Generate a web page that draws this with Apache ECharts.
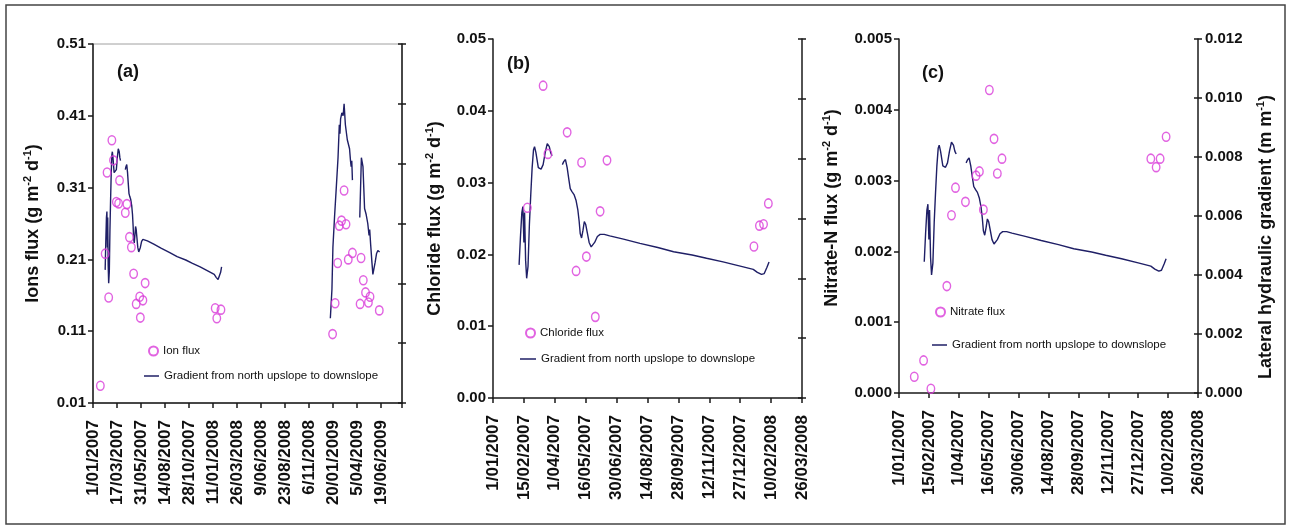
<!DOCTYPE html>
<html><head><meta charset="utf-8">
<script src="https://cdn.jsdelivr.net/npm/echarts@6/dist/echarts.min.js"></script>
<style>html,body{margin:0;padding:0;background:#fff}#c{width:1291px;height:529px}</style>
</head><body><div id="c"></div>
<script>
// x values are days since 1/01/2007
const xLabelsA = ['1/01/2007','17/03/2007','31/05/2007','14/08/2007','28/10/2007','11/01/2008','26/03/2008','9/06/2008','23/08/2008','6/11/2008','20/01/2009','5/04/2009','19/06/2009'];
const xLabelsBC = ['1/01/2007','15/02/2007','1/04/2007','16/05/2007','30/06/2007','14/08/2007','28/09/2007','12/11/2007','27/12/2007','10/02/2008','26/03/2008'];

// Lateral hydraulic gradient (m m-1), null = gap in the record
const gradientDays = [38,40,42,43.5,45,46,47.5,49,51,53,55,57,59,60.5,62.5,66,70,73,76,79,80.5,82,84,86,
  94,
  101,103,105.5,108,110.5,112.5,115,118,121,123.5,125.5,127,129,131,133,135,137.5,140,143,145,148,152,156,162,170,190,214,240,263,290,311,335,360,379,385,391,395,399,402,
  570,
  742,747,750,755,760,766,770,772,774,778,782,785,789,795,802,805,807,809,811,
  822,
  834,839,844,849,854,859,863,865,868,872,875,878,882,886.5,890.5,896];
const gradientValues = [0.00445,0.0054,0.0062,0.0064,0.0052,0.0062,0.0046,0.0040,0.0044,0.0058,0.0068,0.0077,0.0083,0.0084,0.0082,0.0077,0.00765,0.0078,0.0082,0.0085,0.00855,0.0084,0.0082,0.0081,
  null,
  0.0078,0.0079,0.00797,0.0077,0.0073,0.0070,0.0069,0.0068,0.0066,0.0063,0.0059,0.0055,0.00535,0.0056,0.0059,0.0058,0.0055,0.0052,0.00505,0.0050,0.0052,0.0054,0.00547,0.00547,0.00542,0.00531,0.00517,0.00503,0.00489,0.00478,0.00467,0.00455,0.00441,0.0043,0.0042,0.00413,0.00416,0.00437,0.00455,
  null,
  0.00283,0.0038,0.0052,0.0062,0.0071,0.0082,0.0093,0.0090,0.0095,0.0097,0.0096,0.0100,0.0093,0.0088,0.0085,0.0081,0.0079,0.0081,0.00745,
  null,
  0.0062,0.0082,0.0079,0.0065,0.0063,0.0060,0.0056,0.0058,0.0053,0.0047,0.0043,0.00428,0.0047,0.0050,0.0051,0.00505];

// (a) Ion flux (g m-2 d-1)
const ionDays = [23,38,49,44,59,64,73,80,83,101,106,114,120,127,163,146,135,156,148,382,400,387,
  749,757,765,770,777,785,791,798,811,838,845,835,852,866,861,895];
const ionValues = [0.034,0.218,0.157,0.331,0.376,0.348,0.290,0.288,0.320,0.275,0.287,0.241,0.227,0.190,0.177,0.158,0.148,0.153,0.129,0.142,0.140,0.128,
  0.106,0.149,0.205,0.257,0.264,0.306,0.259,0.210,0.219,0.212,0.181,0.148,0.164,0.158,0.150,0.139];

// (b) Chloride flux (g m-2 d-1)
const chlorideDays = [50,73,80,108,129,121,136,149,156,166,380,388,394,401];
const chlorideValues = [0.0265,0.0435,0.0340,0.0370,0.0328,0.0177,0.0197,0.0113,0.0260,0.0331,0.0211,0.0240,0.0242,0.0271];

// (c) Nitrate-N flux (g m-2 d-1)
const nitrateDays = [23,37,48,72,79,85,100,116,121,127,136,143,148,155,379,387,393,402];
const nitrateValues = [0.00023,0.00046,0.00006,0.00151,0.00251,0.00290,0.00270,0.00307,0.00313,0.00259,0.00428,0.00359,0.00310,0.00331,0.00331,0.00319,0.00331,0.00362];

const LINE_NAME = 'Gradient from north upslope to downslope';
const zip = (xs, ys) => xs.map((x, i) => [x, ys[i] == null ? '-' : ys[i]]);
const tickFmt = (labels, step) => v => {
  const i = Math.round(v / step);
  return Math.abs(v - i * step) < 0.01 && labels[i] ? labels[i] : '';
};

const FONT = '"Liberation Sans", Arial, sans-serif';
const AXC = '#1a1a1a';
const axisLine = {show: true, lineStyle: {color: AXC, width: 1.5}};
const tickOut = {show: true, length: 5, lineStyle: {color: AXC, width: 1.5}};
const nameStyle = (pad) => ({
  fontFamily: FONT, fontSize: 18, fontWeight: 'bold', color: '#111', lineHeight: 22, padding: pad,
  rich: {sup: {fontFamily: FONT, fontSize: 11, fontWeight: 'bold', color: '#111', verticalAlign: 'top', lineHeight: 11}}
});
const xLabel = (labels, step) => ({
  rotate: 90, margin: 17, fontFamily: FONT, fontSize: 17, fontWeight: 'bold', color: '#111',
  formatter: tickFmt(labels, step), showMinLabel: true, showMaxLabel: true
});
const yLabel = (dec) => ({fontFamily: FONT, fontSize: 15, fontWeight: 'bold', color: '#111', margin: 7,
  formatter: v => v.toFixed(dec)});

const grids = [
  {left: 93, top: 44, width: 309, height: 359, show: true, borderColor: '#a0a0a0', borderWidth: 1},
  {left: 493, top: 39, width: 309, height: 359},
  {left: 899, top: 39, width: 299, height: 354}
];

const xAxes = [
  {type: 'value', gridIndex: 0, min: 0, max: 966, interval: 75, axisLine, axisTick: tickOut, splitLine: {show: false},
    axisLabel: xLabel(xLabelsA, 75)},
  {type: 'value', gridIndex: 1, min: 0, max: 450, interval: 45, axisLine, axisTick: tickOut, splitLine: {show: false},
    axisLabel: xLabel(xLabelsBC, 45)},
  {type: 'value', gridIndex: 2, min: 0, max: 450, interval: 45, axisLine, axisTick: tickOut, splitLine: {show: false},
    axisLabel: xLabel(xLabelsBC, 45)}
];

const gradAxis = (gi, withLabels) => ({
  type: 'value', gridIndex: gi, position: 'right', min: 0, max: 0.012, interval: 0.002,
  axisLine, axisTick: {show: true, length: 4, lineStyle: {color: AXC, width: 1.5}}, splitLine: {show: false},
  axisLabel: withLabels ? yLabel(3) : {show: false},
  name: withLabels ? 'Lateral hydraulic gradient (m m{sup|-1})' : '',
  nameLocation: 'middle', nameRotate: 90, nameGap: 57,
  nameTextStyle: nameStyle([0, 42, 0, 0])
});
// inner half of the crossing ticks on the gradient axis
const gradInnerTicks = (gi) => ({
  type: 'value', gridIndex: gi, position: 'right', min: 0, max: 0.012, interval: 0.002,
  axisLine: {show: false}, axisTick: {show: true, inside: true, length: 4, lineStyle: {color: AXC, width: 1.5}},
  axisLabel: {show: false}, splitLine: {show: false}
});

const yAxes = [
  {type: 'value', gridIndex: 0, min: 0.01, max: 0.51, interval: 0.1, axisLine, axisTick: tickOut, splitLine: {show: false},
    axisLabel: yLabel(2), name: 'Ions flux (g m{sup|-2} d{sup|-1})', nameLocation: 'middle', nameRotate: 90, nameGap: 49,
    nameTextStyle: nameStyle([0, 0, 0, 0])},
  gradAxis(0, false),
  {type: 'value', gridIndex: 1, min: 0, max: 0.05, interval: 0.01, axisLine, axisTick: tickOut, splitLine: {show: false},
    axisLabel: yLabel(2), name: 'Chloride flux (g m{sup|-2} d{sup|-1})', nameLocation: 'middle', nameRotate: 90, nameGap: 47,
    nameTextStyle: nameStyle([0, 0, 0, 0])},
  gradAxis(1, false),
  {type: 'value', gridIndex: 2, min: 0, max: 0.005, interval: 0.001, axisLine, axisTick: tickOut, splitLine: {show: false},
    axisLabel: yLabel(3), name: 'Nitrate-N flux (g m{sup|-2} d{sup|-1})', nameLocation: 'middle', nameRotate: 90, nameGap: 56,
    nameTextStyle: nameStyle([0, 0, 0, 16])},
  gradAxis(2, true),
  gradInnerTicks(0), gradInnerTicks(1), gradInnerTicks(2)
];

const MAG = '#d93cd9';
const scatter = (name, xi, yi, data) => ({
  name, type: 'scatter', xAxisIndex: xi, yAxisIndex: yi, data, symbol: 'circle', symbolSize: [7.5, 9],
  itemStyle: {color: 'rgba(255,255,255,0)', borderColor: MAG, borderWidth: 1.5}, z: 3
});
const LINE_COLOR = '#1f1f66';
const line = (xi, yi) => ({
  name: LINE_NAME, type: 'line', xAxisIndex: xi, yAxisIndex: yi, data: zip(gradientDays, gradientValues),
  symbol: 'none', connectNulls: false, lineStyle: {color: LINE_COLOR, width: 1.4}, itemStyle: {color: LINE_COLOR}, z: 2
});

const legText = {fontFamily: FONT, fontSize: 11.5, color: '#111'};
const legendScatter = (name, left, top) => ({
  data: [name], left, top, padding: 0, itemWidth: 9, itemHeight: 9, textStyle: legText, selectedMode: false
});
const legendLine = (left, top, w) => ({
  data: [{name: LINE_NAME, icon: 'rect'}], left, top, padding: 0, itemWidth: w, itemHeight: 1.5,
  itemStyle: {color: LINE_COLOR, borderWidth: 0}, textStyle: legText, selectedMode: false
});

const option = {
  animation: false,
  backgroundColor: '#fff',
  grid: grids,
  xAxis: xAxes,
  yAxis: yAxes,
  title: [
    {text: '(a)', left: 117, top: 63, padding: 0, textStyle: {fontFamily: FONT, fontSize: 18, fontWeight: 'bold', color: '#111'}},
    {text: '(b)', left: 507, top: 55, padding: 0, textStyle: {fontFamily: FONT, fontSize: 18, fontWeight: 'bold', color: '#111'}},
    {text: '(c)', left: 922, top: 64, padding: 0, textStyle: {fontFamily: FONT, fontSize: 18, fontWeight: 'bold', color: '#111'}}
  ],
  legend: [
    legendScatter('Ion flux', 148, 345),
    legendLine(144, 370, 15),
    legendScatter('Chloride flux', 525, 327),
    legendLine(520, 353, 16),
    legendScatter('Nitrate flux', 935, 306),
    legendLine(932, 339, 15)
  ],
  graphic: [
    {type: 'rect', shape: {x: 6, y: 5, width: 1279, height: 519}, style: {fill: 'none', stroke: '#444', lineWidth: 1.5}, silent: true}
  ],
  series: [
    line(0, 1), scatter('Ion flux', 0, 0, zip(ionDays, ionValues)),
    line(1, 3), scatter('Chloride flux', 1, 2, zip(chlorideDays, chlorideValues)),
    line(2, 5), scatter('Nitrate flux', 2, 4, zip(nitrateDays, nitrateValues))
  ]
};

const chart = echarts.init(document.getElementById('c'), null, {renderer: 'canvas'});
chart.setOption(option);
</script>
</body></html>
